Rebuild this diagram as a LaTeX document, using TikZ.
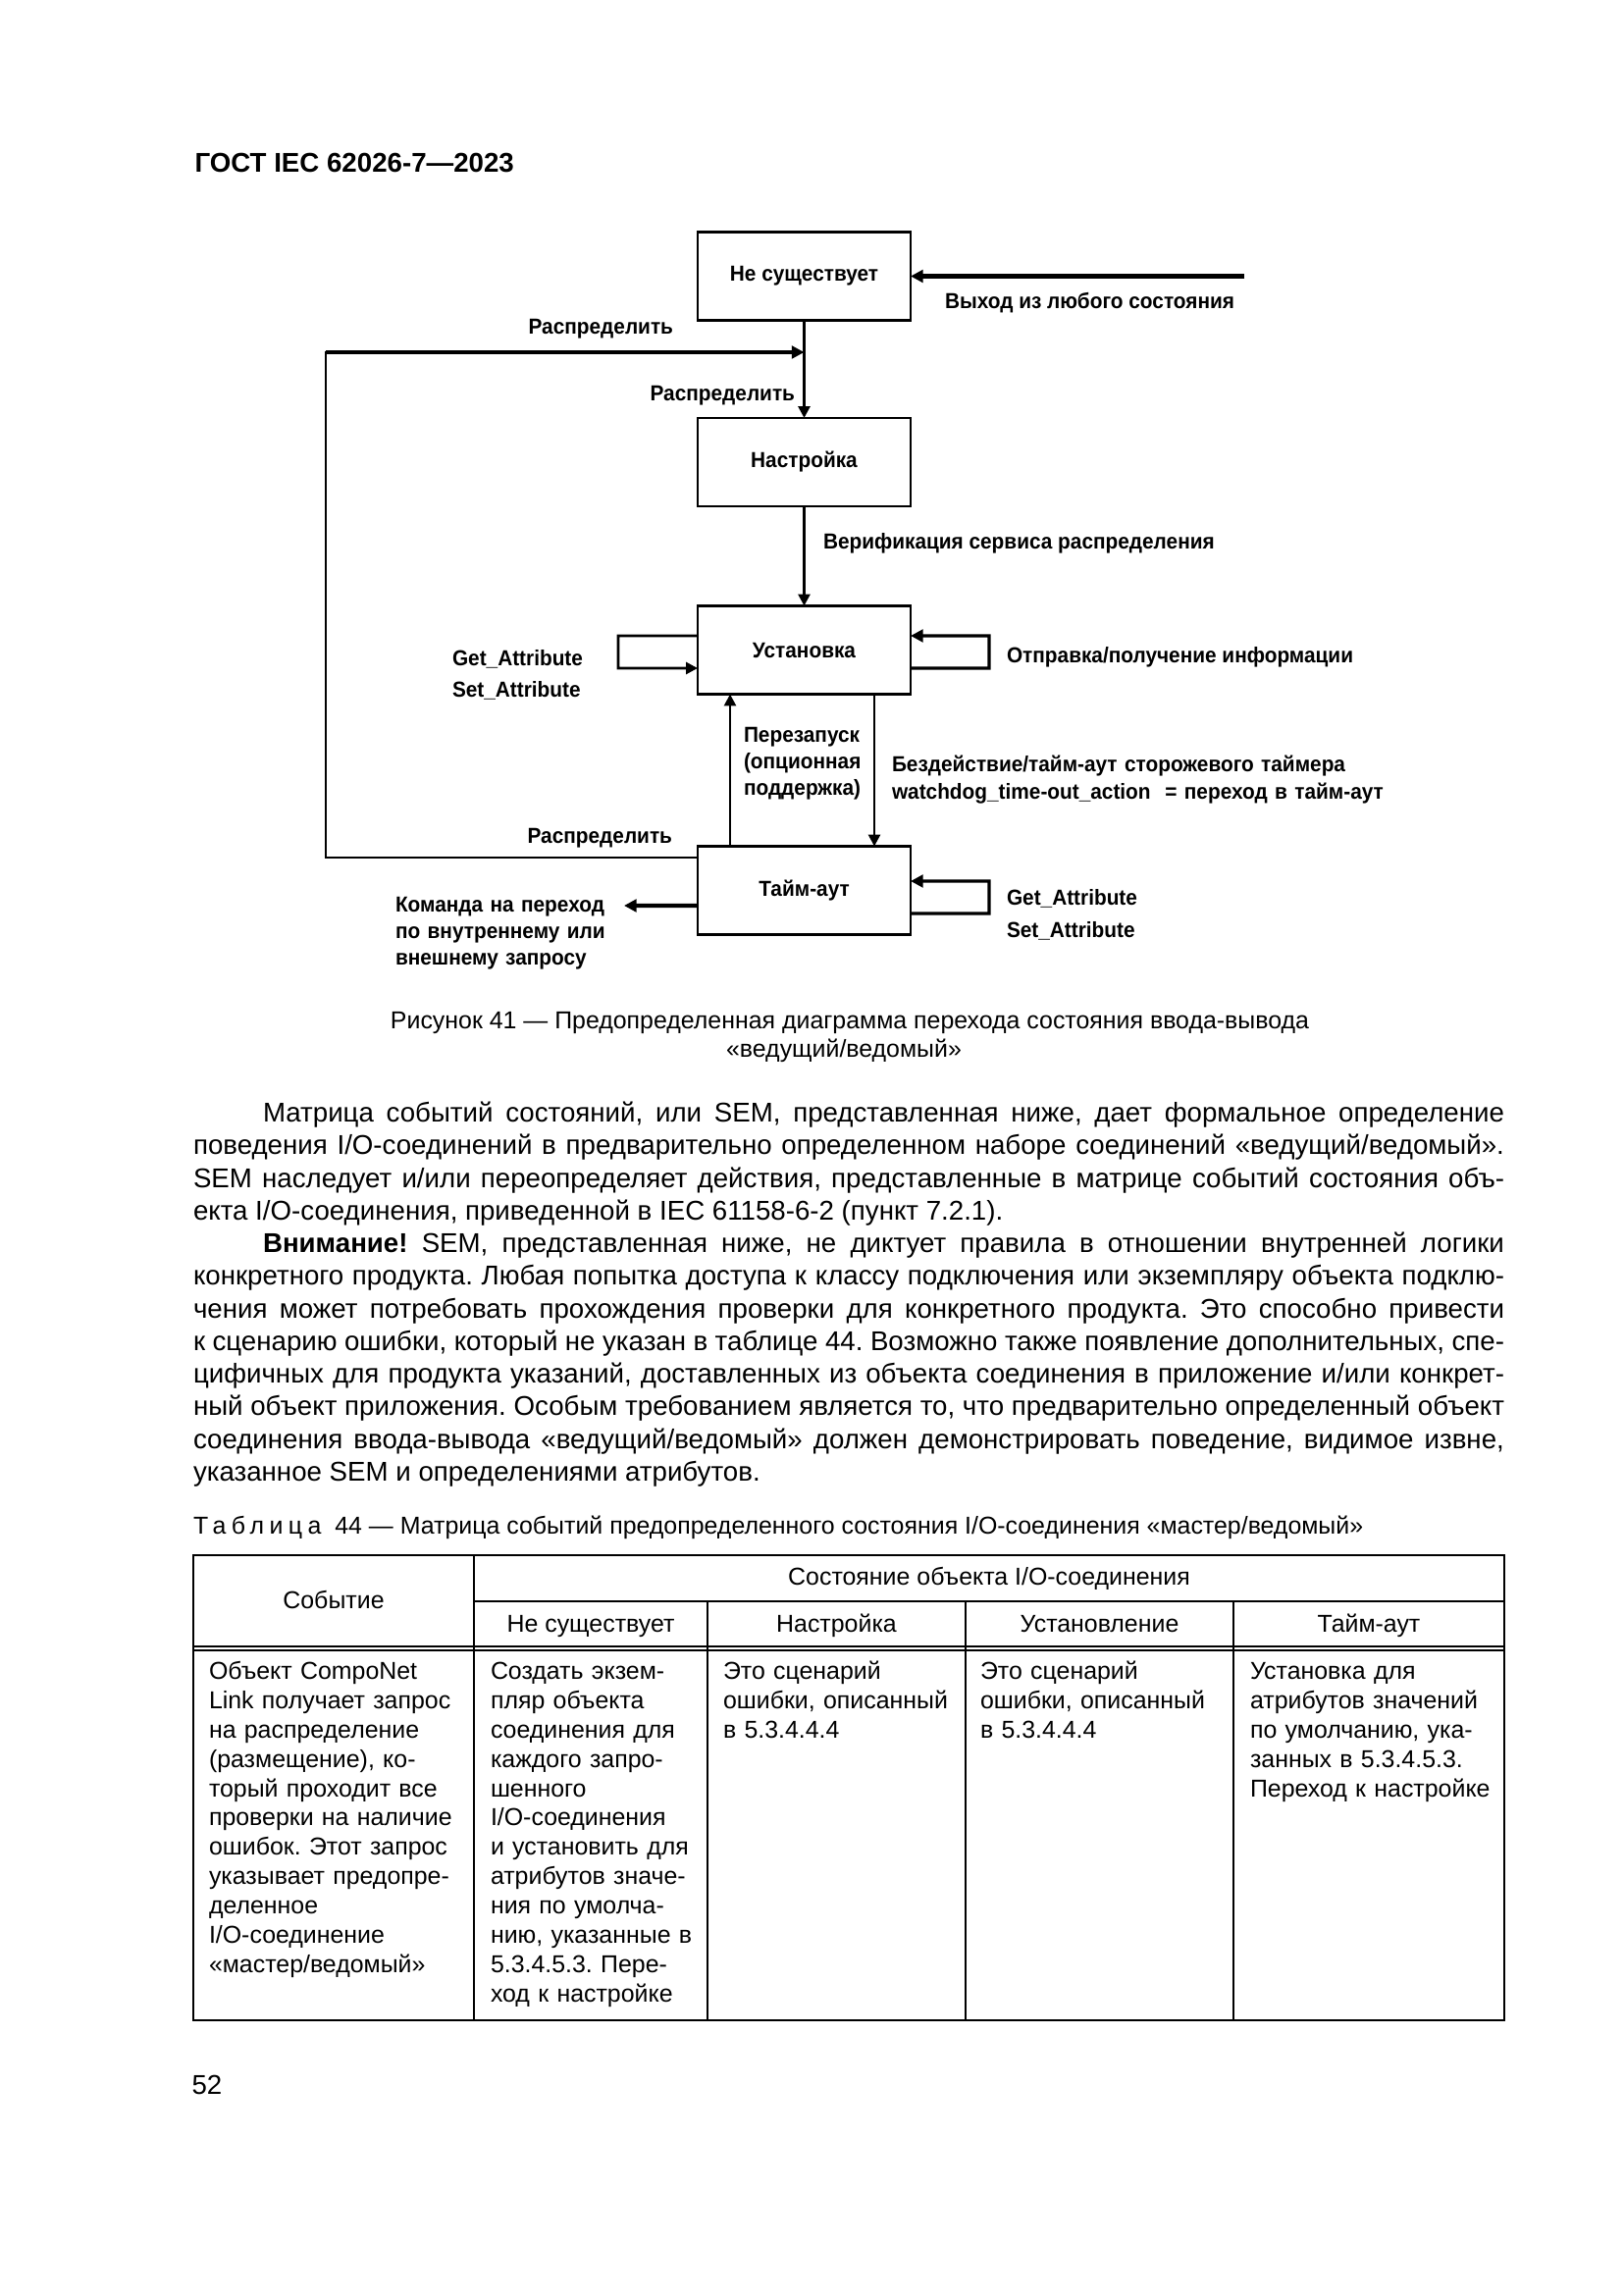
\documentclass[tikz,border=0pt]{standalone}
\usepackage{fontspec}
\setmainfont{Liberation Sans}
\newfontfamily\diagfont[FakeStretch=0.94]{Liberation Sans}
\newfontfamily\spacedfont[LetterSpace=22]{Liberation Sans}
\usetikzlibrary{arrows.meta,calc}
\frenchspacing
\tikzset{
  stbox/.style={draw, line width=1pt, minimum width=27.56mm, minimum height=11.43mm,
    inner sep=0pt, outer sep=0pt, font={\diagfont\bfseries\fontsize{8}{9.8}\selectfont}},
  lbl/.style={inner sep=0pt, outer sep=0pt, font={\diagfont\bfseries\fontsize{8}{9.8}\selectfont}, anchor=mid west},
  mlbl/.style={inner sep=0pt, outer sep=0pt, font={\diagfont\bfseries\fontsize{8}{9.8}\selectfont},
    text width=80mm, align=left, anchor=base west},
  conn/.style={line width=1pt, -{Triangle[length=1.5mm,width=1.5mm]}},
  thickconn/.style={line width=1.5pt, -{Triangle[length=1.6mm,width=1.6mm]}},
  plainln/.style={line width=1pt, line cap=rect},
  bodytxt/.style={inner sep=0pt, outer sep=0pt, font={\fontsize{10}{12.01}\selectfont}},
  tabtxt/.style={inner sep=0pt, outer sep=0pt, font={\fontsize{9}{10.8}\selectfont}},
  cell/.style={tabtxt, text width=60mm, align=left, anchor=base west},
  rulethin/.style={line width=0.8pt},
  ruleouter/.style={line width=1pt},
}
\begin{document}
\frenchspacing
\begin{tikzpicture}[x=0.127mm, y=-0.127mm]
\useasboundingbox (0,0) rectangle (1654,2339);
\fill[white] (0,0) rectangle (1654,2339);

% ---------- header ----------
\node[anchor=mid west, inner sep=0pt, font={\bfseries\fontsize{10}{12}\selectfont}] (hdr) at (198,168) {ГОСТ IEC 62026-7—2023};

% ---------- diagram: states ----------
\node[stbox] (nex) at (819.5,281.5) {Не существует};
\node[stbox] (cfg) at (819.5,471) {Настройка};
\node[stbox] (est) at (819.5,662.5) {Установка};
\node[stbox] (tmo) at (819.5,907.5) {Тайм-аут};

% coordinates for free ends and corners
\coordinate (exitstart) at (1268,281.5);
\coordinate (lc1) at (332,874);
\coordinate (lc2) at (332,359);
\coordinate (join) at (819.5,359);
\coordinate (ll1) at (630,648);
\coordinate (ll2) at (630,681);
\coordinate (rl1) at (1008,681);
\coordinate (rl2) at (1008,648);
\coordinate (rl3) at (1008,931);
\coordinate (rl4) at (1008,898);
\coordinate (cmdtip) at (636,923);

% connectors
\draw[thickconn] (exitstart) -- (nex.east);
\draw[conn] (nex) -- (cfg);
\draw[conn] (cfg) -- (est);
\draw[plainln] ($(tmo.west)+(0,-33.5)$) -- (lc1) -- (lc2);
\draw[thickconn] (lc2) -- (join);
\draw[conn] ($(est.west)+(0,-14.5)$) -- (ll1) -- (ll2) -- ($(est.west)+(0,18.5)$);
\draw[line width=1.2pt, -{Triangle[length=1.6mm,width=1.6mm]}] ($(est.east)+(0,18.5)$) -- (rl1) -- (rl2) -- ($(est.east)+(0,-14.5)$);
\draw[conn] ($(tmo.north west)+(33,0)$) -- ($(est.south west)+(33,0)$);
\draw[conn] ($(est.south east)+(-37,0)$) -- ($(tmo.north east)+(-37,0)$);
\draw[thickconn] ($(tmo.west)+(0,15.5)$) -- (cmdtip);
\draw[line width=1.2pt, -{Triangle[length=1.6mm,width=1.6mm]}] ($(tmo.east)+(0,23.5)$) -- (rl3) -- (rl4) -- ($(tmo.east)+(0,-9.5)$);

% labels
\node[lbl] (lexit) at (963,307) {Выход из любого состояния};
\node[lbl, anchor=mid east] (ldist1) at (686,333) {Распределить};
\node[lbl, anchor=mid east] (ldist2) at (810,401) {Распределить};
\node[lbl] (lverif) at (839,552) {Верификация сервиса распределения};
\node[lbl] (lget1) at (461,671) {Get\_Attribute};
\node[lbl] (lset1) at (461,703) {Set\_Attribute};
\node[lbl] (linfo) at (1026,668) {Отправка/получение информации};
\node[mlbl] (lrestart) at (758,756) {Перезапуск\\(опционная\\поддержка)};
\node[mlbl] (lidle) at (909,787) {Бездействие/тайм-аут сторожевого таймера\\watchdog\_time-out\_action\ \ = переход в тайм-аут};
\node[lbl, anchor=mid east] (ldist3) at (685,852) {Распределить};
\node[mlbl] (lcmd) at (403,929) {Команда на переход\\по внутреннему или\\внешнему запросу};
\node[lbl] (lget2) at (1026,915) {Get\_Attribute};
\node[lbl] (lset2) at (1026,948) {Set\_Attribute};

% ---------- caption ----------
\node[anchor=mid, inner sep=0pt, font={\fontsize{9}{10.8}\selectfont}] (cap1) at (866,1041) {Рисунок 41 — Предопределенная диаграмма перехода состояния ввода-вывода};
\node[anchor=mid, inner sep=0pt, font={\fontsize{9}{10.8}\selectfont}] (cap2) at (860,1070) {«ведущий/ведомый»};

% ---------- body text ----------
\node[bodytxt, text width=169.67mm, align=justify, anchor=base west] (para) at (197,1143.7) {%
\frenchspacing\hyphenpenalty=10000 \exhyphenpenalty=0 \tolerance=10000 \emergencystretch=0pt
\hspace*{9.02mm}Матрица событий состояний, или SEM, представленная ниже, дает формальное определение\linebreak
поведения I/O-соединений в предварительно определенном наборе соединений «ведущий/ведомый».\linebreak
SEM наследует и/или переопределяет действия, представленные в матрице событий состояния объ-\linebreak
екта I/O-соединения, приведенной в IEC~61158-6-2 (пункт 7.2.1).\par
\hspace*{9.02mm}\textbf{Внимание!} SEM, представленная ниже, не диктует правила в отношении внутренней логики\linebreak
конкретного продукта. Любая попытка доступа к классу подключения или экземпляру объекта подклю-\linebreak
чения может потребовать прохождения проверки для конкретного продукта. Это способно привести\linebreak
к~сценарию ошибки, который не указан в таблице 44. Возможно также появление дополнительных, спе-\linebreak
цифичных для продукта указаний, доставленных из объекта соединения в приложение и/или конкрет-\linebreak
ный объект приложения. Особым требованием является то, что предварительно определенный объект\linebreak
соединения ввода-вывода «ведущий/ведомый» должен демонстрировать поведение, видимое извне,\linebreak
указанное SEM и определениями атрибутов.\par};

% ---------- table caption ----------
\node[tabtxt, anchor=mid west] (tcap) at (197,1556) {{\spacedfont Таблица}\ \ 44 — Матрица событий предопределенного состояния I/O-соединения «мастер/ведомый»};

% ---------- table ----------
\coordinate (tnw) at (197,1585);
\coordinate (tse) at (1533,2059);
\draw[ruleouter] (tnw) rectangle (tse);
\draw[rulethin] (483,1585) -- (483,2059);
\draw[rulethin] (483,1632) -- (1533,1632);
\draw[rulethin] (721,1632) -- (721,2059);
\draw[rulethin] (984,1632) -- (984,2059);
\draw[rulethin] (1257,1632) -- (1257,2059);
\draw[rulethin] (197,1678) -- (1533,1678);
\draw[rulethin] (197,1682) -- (1533,1682);

\node[tabtxt, anchor=mid] (hev) at (340,1632) {Событие};
\node[tabtxt, anchor=mid] (hst) at (1008,1608) {Состояние объекта I/O-соединения};
\node[tabtxt, anchor=mid] (hc1) at (602,1656) {Не существует};
\node[tabtxt, anchor=mid] (hc2) at (852.5,1656) {Настройка};
\node[tabtxt, anchor=mid] (hc3) at (1120.5,1656) {Установление};
\node[tabtxt, anchor=mid] (hc4) at (1395,1656) {Тайм-аут};

\node[cell] (c1) at (213,1711.5) {\frenchspacing Объект CompoNet\\Link получает запрос\\на распределение\\(размещение), ко-\\торый проходит все\\проверки на наличие\\ошибок. Этот запрос\\указывает предопре-\\деленное\\I/O-соединение\\«мастер/ведомый»};
\node[cell] (c2) at (500,1711.5) {\frenchspacing Создать экзем-\\пляр объекта\\соединения для\\каждого запро-\\шенного\\I/O-соединения\\и установить для\\атрибутов значе-\\ния по умолча-\\нию, указанные в\\5.3.4.5.3. Пере-\\ход к настройке};
\node[cell] (c3) at (737,1711.5) {Это сценарий\\ошибки, описанный\\в 5.3.4.4.4};
\node[cell] (c4) at (999,1711.5) {Это сценарий\\ошибки, описанный\\в 5.3.4.4.4};
\node[cell] (c5) at (1274,1711.5) {Установка для\\атрибутов значений\\по умолчанию, ука-\\занных в 5.3.4.5.3.\\Переход к настройке};

% ---------- page number ----------
\node[anchor=mid west, inner sep=0pt, font={\fontsize{10}{12}\selectfont}] (pnum) at (195,2127) {52};
\end{tikzpicture}
\end{document}
